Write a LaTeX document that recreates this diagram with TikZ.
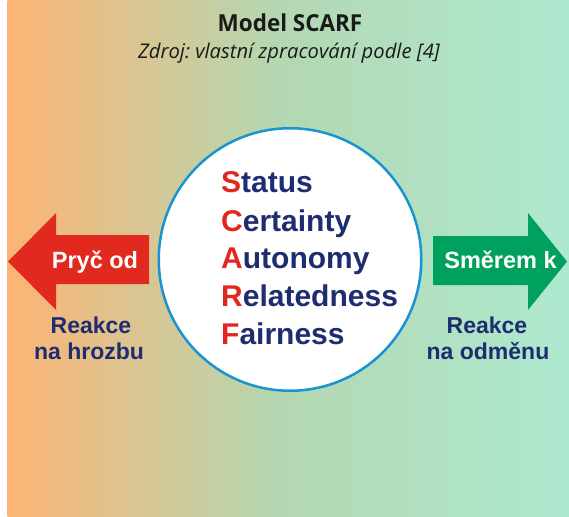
\documentclass[tikz,border=0pt]{standalone}
\usepackage{fontspec}
\setmainfont{Liberation Sans}
\newfontfamily\headfont[FakeStretch=0.96]{Open Sans}
\newfontfamily\sourcefont{Open Sans}

\definecolor{bgorange}{HTML}{FCB475}
\definecolor{bggreen}{HTML}{B4D7B1}
\definecolor{bgmint}{HTML}{ADE9D0}
\definecolor{ringblue}{HTML}{1A93D1}
\definecolor{awayred}{HTML}{E1291F}
\definecolor{towardgreen}{HTML}{00A15F}
\definecolor{navy}{HTML}{1E2D70}
\definecolor{initialred}{HTML}{E2271F}
\definecolor{headink}{HTML}{1A1A1A}

% colours run over the middle half of the shading square, as TikZ fits it
\pgfdeclarehorizontalshading{backdrop}{100bp}{color(0bp)=(bgorange); color(25bp)=(bgorange); color(49bp)=(bggreen); color(75bp)=(bgmint); color(100bp)=(bgmint)}

\begin{document}
\begin{tikzpicture}[x=1bp,y=-1bp,
  word/.style={anchor=base west, inner sep=0, text=navy,
    font=\fontsize{30bp}{36bp}\selectfont\bfseries},
  caption/.style={anchor=base, inner sep=0, text=navy,
    font=\fontsize{23bp}{26bp}\selectfont\bfseries},
  arrowtext/.style={inner sep=0, text=white,
    font=\fontsize{23.5bp}{26bp}\selectfont\bfseries}]
\newcommand{\ini}[1]{\textcolor{initialred}{#1}}

\useasboundingbox (0,0) rectangle (569,517);
\fill[white] (0,0) rectangle (569,517);
\fill[shading=backdrop] (7.5,0) rectangle (569,517);

% heading
\node[anchor=base, inner sep=0, text=headink,
  font=\headfont\fontsize{23.4bp}{27bp}\selectfont\bfseries] (title) at (290,31.7) {Model SCARF};
\node[anchor=base, inner sep=0, text=headink,
  font=\sourcefont\fontsize{20.2bp}{24bp}\selectfont\itshape\frenchspacing] (source) at (289,59) {Zdroj: vlastní zpracování podle [4]};

% central circle with the five domains
\node[circle, draw=ringblue, line width=2.5bp, fill=white,
  minimum size=262.5bp, inner sep=0] (ring) at (290,259.5) {};
\node[word] (status)      at (221,193) {\ini{S}tatus};
\node[word] (certainty)   at (221,231) {\ini{C}ertainty};
\node[word] (autonomy)    at (221,268.5) {\ini{A}utonomy};
\node[word] (relatedness) at (221,306.5) {\ini{R}elatedness};
\node[word] (fairness)    at (221,344) {\ini{F}airness};

% threat response arrow
\fill[awayred] (8,261.5) -- (56,213) -- (56,235) -- (149,235) -- (149,284)
  -- (56,284) -- (56,310) -- cycle;
\node[arrowtext, anchor=base] (away) at (95,268) {Pryč od};
\node[caption] (threat1) at (91,333) {Reakce};
\node[caption] (threat2) at (89,359) {na hrozbu};

% reward response arrow
\fill[towardgreen] (433,236) -- (528,236) -- (528,213) -- (567,261.5)
  -- (528,310) -- (528,285) -- (433,285) -- cycle;
\node[arrowtext, anchor=base] (toward) at (500.5,268.5) {Směrem k};
\node[caption] (reward1) at (487,333) {Reakce};
\node[caption] (reward2) at (488,359) {na odměnu};
\end{tikzpicture}
\end{document}
